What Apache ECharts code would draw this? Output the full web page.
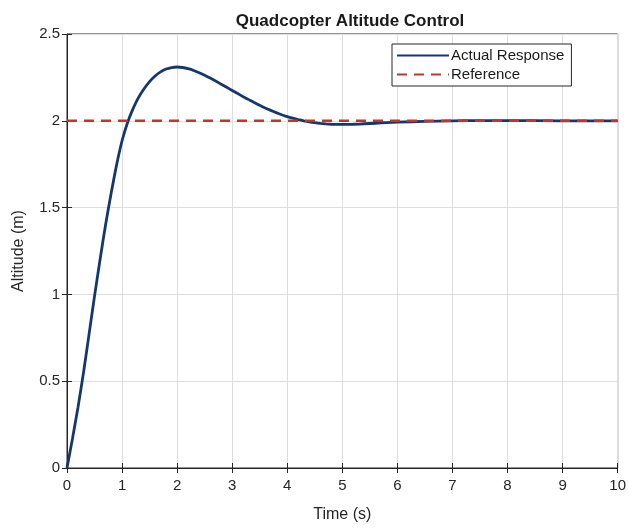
<!DOCTYPE html>
<html>
<head>
<meta charset="utf-8">
<script src="https://cdn.jsdelivr.net/npm/echarts@6/dist/echarts.min.js"></script>
<style>
html,body{margin:0;padding:0;background:#fff;}
#chart{width:629px;height:528px;}
</style>
</head>
<body>
<div id="chart"></div>
<script>
const titleText = 'Quadcopter Altitude Control';
const xAxisName = 'Time (s)';
const yAxisName = 'Altitude (m)';
const seriesNames = ['Actual Response', 'Reference'];

const timeValues = [0,0.1,0.2,0.3,0.4,0.5,0.6,0.7,0.8,0.9,1.0,1.1,1.2,1.3,1.4,1.5,1.6,1.7,1.8,1.9,2.0,2.1,2.2,2.3,2.4,2.5,2.6,2.7,2.8,2.9,3.0,3.1,3.2,3.3,3.4,3.5,3.6,3.7,3.8,3.9,4.0,4.1,4.2,4.3,4.4,4.5,4.6,4.7,4.8,4.9,5.0,5.2,5.4,5.6,5.8,6.0,6.5,7.0,7.5,8.0,9.0,10.0];
const altitudeValues = [0,0.17,0.35,0.55,0.77,0.99,1.2,1.4,1.58,1.745,1.885,1.99,2.07,2.135,2.185,2.226,2.258,2.282,2.298,2.307,2.31,2.307,2.3,2.29,2.277,2.262,2.246,2.229,2.211,2.193,2.175,2.157,2.139,2.122,2.105,2.089,2.074,2.06,2.047,2.035,2.024,2.015,2.007,2.0,1.994,1.989,1.985,1.982,1.98,1.979,1.979,1.98,1.983,1.986,1.989,1.992,1.997,2.0,2.001,2.001,2.0,2.0];
const refTimes = [0, 10];
const refValues = [2, 2];

const actualData = timeValues.map((t, i) => [t, altitudeValues[i]]);
const refData = refTimes.map((t, i) => [t, refValues[i]]);

const chart = echarts.init(document.getElementById('chart'));
const font = 'Liberation Sans, Arial, sans-serif';
const axisColor = '#262626';
const gridColor = '#dedede';
const hiddenAxis = {
  axisLine: {show: false},
  axisTick: {show: true, inside: true, length: 5, lineStyle: {color: axisColor}},
  axisLabel: {show: false},
  splitLine: {show: false}
};
chart.setOption({
  animation: false,
  backgroundColor: '#ffffff',
  title: {
    text: titleText,
    left: 345, top: 8, textAlign: 'center',
    textStyle: {fontFamily: font, fontSize: 17, fontWeight: 'bold', color: '#1a1a1a'}
  },
  grid: {left: 67, right: 5, top: 34, bottom: 57, show: true, borderColor: axisColor, borderWidth: 1},
  legend: {
    orient: 'vertical', left: 392, top: 44,
    data: seriesNames,
    itemWidth: 52, itemHeight: 12, itemGap: 4,
    itemStyle: {opacity: 0},
    backgroundColor: '#ffffff', borderColor: axisColor, borderWidth: 1,
    padding: [4, 7, 4, 4],
    textStyle: {fontFamily: font, fontSize: 15, color: '#1a1a1a', padding: [0,0,0,-3]}
  },
  xAxis: [{
    type: 'value', min: 0, max: 10, interval: 1,
    name: xAxisName, nameLocation: 'middle', nameGap: 39,
    nameTextStyle: {fontFamily: font, fontSize: 16, color: axisColor},
    axisLine: {show: true, lineStyle: {color: axisColor}},
    axisTick: {show: true, inside: true, length: 5, lineStyle: {color: axisColor}},
    axisLabel: {fontFamily: font, fontSize: 15, color: axisColor, margin: 10},
    splitLine: {show: true, lineStyle: {color: gridColor, width: 1}}
  }, Object.assign({type: 'value', min: 0, max: 10, interval: 1, position: 'top'}, hiddenAxis)],
  yAxis: [{
    type: 'value', min: 0, max: 2.5, interval: 0.5,
    name: yAxisName, nameLocation: 'middle', nameGap: 40,
    nameTextStyle: {fontFamily: font, fontSize: 16, color: axisColor},
    axisLine: {show: true, lineStyle: {color: axisColor}},
    axisTick: {show: true, inside: true, length: 5, lineStyle: {color: axisColor}},
    axisLabel: {fontFamily: font, fontSize: 15, color: axisColor, margin: 7},
    splitLine: {show: true, lineStyle: {color: gridColor, width: 1}}
  }, Object.assign({type: 'value', min: 0, max: 2.5, interval: 0.5, position: 'right'}, hiddenAxis)],
  series: [
    {
      name: seriesNames[0], type: 'line', data: actualData,
      symbol: 'none', smooth: 0.2,
      lineStyle: {color: '#14386e', width: 2.8},
      itemStyle: {color: '#14386e'}
    },
    {
      name: seriesNames[1], type: 'line', data: refData,
      symbol: 'none',
      lineStyle: {color: '#c0362c', width: 2.6, type: [10, 7]},
      itemStyle: {color: '#c0362c'}
    }
  ]
});
</script>
</body>
</html>
